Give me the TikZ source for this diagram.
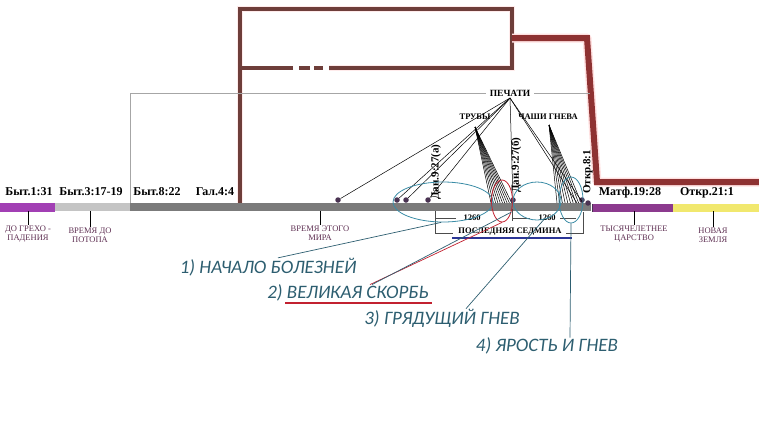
\documentclass[tikz,border=0pt]{standalone}
\usepackage{fontspec}
\setmainfont{Liberation Serif}
\newfontfamily\notefont{Carlito}
\usetikzlibrary{positioning, shapes.geometric}

\definecolor{barDark}{HTML}{7B7B7B}
\definecolor{barLight}{HTML}{C4C4C4}
\definecolor{edenViolet}{HTML}{A23FB4}
\definecolor{kingdomViolet}{HTML}{8C3A8E}
\definecolor{newYellow}{HTML}{EEE24A}
\definecolor{frameBrown}{HTML}{6E3E3A}
\definecolor{wrathRed}{HTML}{8E3232}
\definecolor{ringTeal}{HTML}{3B8CA6}
\definecolor{noteTeal}{HTML}{2D5E70}
\definecolor{eraText}{HTML}{5E2F52}
\definecolor{dotPlum}{HTML}{4A3352}
\definecolor{scorbRed}{HTML}{C22130}
\definecolor{sedminaBlue}{HTML}{2B3596}

\tikzset{
  verse/.style={font=\bfseries\fontsize{12}{13}\selectfont, inner sep=1pt},
  era/.style={font=\fontsize{8.5}{9.5}\selectfont, text=eraText, align=center, inner sep=0pt},
  tag/.style={font=\bfseries\fontsize{8.5}{9}\selectfont, inner sep=1pt},
  turned/.style={tag, rotate=90, font=\bfseries\fontsize{11}{12}\selectfont},
  note/.style={font=\notefont\itshape\fontsize{19}{21}\selectfont, text=noteTeal, inner sep=0pt},
  ring/.style={ellipse, draw=ringTeal, line width=0.8pt, inner sep=0pt},
  ray/.style={black, line width=0.5pt},
  seal/.style={circle, fill=dotPlum, inner sep=0pt, minimum size=5.5pt},
  bracket/.style={draw=black!70, line width=0.9pt}
}

\begin{document}
\begin{tikzpicture}[x=1pt, y=-1pt]
        \useasboundingbox (0,0) rectangle (759,424);
        % frame and thick line
        \draw[red!8, line width=6pt] (240,205) -- (240,9) -- (512,9) -- (512,68) -- (329,68);
        \draw[frameBrown, line width=3.5pt] (240,205) -- (240,9) -- (512,9) -- (512,68) -- (329,68);
        \draw[frameBrown, line width=3.5pt] (293,68) -- (240,68) (299,68) -- (310,68) (314,68) -- (323,68);
        \draw[red!12, line width=9pt, line join=round] (512,38) -- (587,38) -- (597,182) -- (759,182);
        \draw[wrathRed, line width=6pt] (512,38) -- (587,38) -- (597,182) -- (759,182);
        \draw[gray!70, line width=0.8pt] (130,205) -- (130,93) -- (590,93);
        \node[tag, fill=white, inner xsep=4pt, font=\bfseries\fontsize{9.5}{10}\selectfont] (seals) at (510,93) {ПЕЧАТИ};
        \node[tag] (trumpets) at (475,117) {ТРУБЫ};
        \node[tag] (bowls) at (548,117) {ЧАШИ ГНЕВА};
        \coordinate (sealTip) at (510,98);
        \coordinate (trumpTip) at (475,127);
        \coordinate (bowlTip) at (549,125);
        % fans
        \foreach \i in {0,...,9} {
          \coordinate (tr\i) at ({491+2.3*\i},203);
          \draw[ray] (trumpTip) -- (tr\i);
          \coordinate (bw\i) at ({557+2.7*\i},203);
          \draw[ray] (bowlTip) -- (bw\i);
        }
        \coordinate (sr1) at (577,203);
        \coordinate (sr2) at (583,203);
        % time line
        \draw[edenViolet, line width=9pt] (0,207) -- (55,207);
        \draw[barLight, line width=8pt] (55,207) -- (130,207);
        \draw[barDark, line width=8pt] (130,207) -- (591,207);
        \draw[kingdomViolet, line width=8pt] (592,208) -- (673,208);
        \draw[newYellow!80!white, line width=8pt] (673,208) -- (759,208);
        \draw[dotPlum, line width=1.2pt] (592.5,204) -- (592.5,212);
        \node[seal] (d1) at (338,200) {};
        \node[seal] (d2) at (397,200) {};
        \node[seal] (d3) at (406,200) {};
        \node[seal] (d4) at (428,200) {};
        \node[seal] (d5) at (513,200) {};
        \node[seal] (d6) at (582,200) {};
        \node[seal] (d7) at (588,203) {};
        \foreach \p in {d1,d2,d3,d4,d5,sr1,sr2}
          \draw[ray] (sealTip) -- (\p);
        \node[verse] (gen1) at (29,192) {Быт.1:31};
        \node[verse] (gen3) at (91,192) {Быт.3:17-19};
        \node[verse] (gen8) at (157,192) {Быт.8:22};
        \node[verse] (gal4) at (215,192) {Гал.4:4};
        \node[verse] (mat19) at (630,193) {Матф.19:28};
        \node[verse] (rev21) at (707,193) {Откр.21:1};
        \node[turned] (dan27a) at (436,172) {Дан.9:27(а)};
        \node[turned] (dan27b) at (516,165) {Дан.9:27(б)};
        \node[turned] (rev8) at (588,172) {Откр.8:1};
        % eras
        \node[era] (eden) at (28,234) {ДО ГРЕХО -\\ПАДЕНИЯ};
        \node[era] (flood) at (90,235) {ВРЕМЯ ДО\\ПОТОПА};
        \node[era] (world) at (320,233) {ВРЕМЯ ЭТОГО\\МИРА};
        \node[era] (kingdom) at (634,234) {ТЫСЯЧЕЛЕТНЕЕ\\ЦАРСТВО};
        \node[era] (newearth) at (713,235) {НОВАЯ\\ЗЕМЛЯ};
        \foreach \e/\x in {eden/28, flood/90, world/320, kingdom/634, newearth/713}
          \draw[black, line width=0.7pt] (\x,211) -- (\e.north);
        % week
        \draw[bracket] (435,211) -- (435,233) -- (453,233);
        \draw[bracket] (435,218) -- (456,218);
        \draw[bracket] (512,209) -- (512,221);
        \draw[bracket] (512,218) -- (530,218);
        \draw[bracket] (560,218) -- (576,218);
        \draw[bracket] (566,233) -- (583,233) -- (583,212);
        \node[tag] (half1) at (472,218) {1260};
        \node[tag] (half2) at (547,218) {1260};
        \node[tag, font=\bfseries\fontsize{8.5}{9}\selectfont] (sedmina) at (510,232) {ПОСЛЕДНЯЯ СЕДМИНА};
        \draw[sedminaBlue, line width=2.5pt] (452,238) -- (572,238);
        % rings
        \node[ring, minimum width=100pt, minimum height=40pt] (ringA) at (443,202) {};
        \node[ring, draw=scorbRed, minimum width=21pt, minimum height=42pt] (scorb) at (502,201) {};
        \node[ring, minimum width=48pt, minimum height=38pt] (ringB) at (537,201) {};
        \node[ring, minimum width=24pt, minimum height=46pt] (ringC) at (571,200) {};
        % notes
        \node[note] (note1) at (268,267) {1) НАЧАЛО БОЛЕЗНЕЙ};
        \node[note] (note2) at (348,293) {2) ВЕЛИКАЯ СКОРБЬ};
        \node[note] (note3) at (442,318) {3) ГРЯДУЩИЙ ГНЕВ};
        \node[note] (note4) at (547,346) {4) ЯРОСТЬ И ГНЕВ};
        \draw[scorbRed, line width=2.5pt] (285,303) -- (432,303);
        \draw[noteTeal, line width=0.7pt] ([xshift=10pt]note1.north) -- (ringA.-95);
        \draw[scorbRed, line width=0.7pt] ([xshift=22pt]note2.north) -- (scorb.south);
        \draw[noteTeal, line width=0.7pt] ([xshift=24pt]note2.north) -- (scorb.-50);
        \draw[noteTeal, line width=0.7pt] ([xshift=24pt]note3.north) -- (ringB.-70);
        \draw[noteTeal, line width=0.7pt] ([xshift=23pt]note4.north) -- (ringC.south);
      \end{tikzpicture}
\end{document}
